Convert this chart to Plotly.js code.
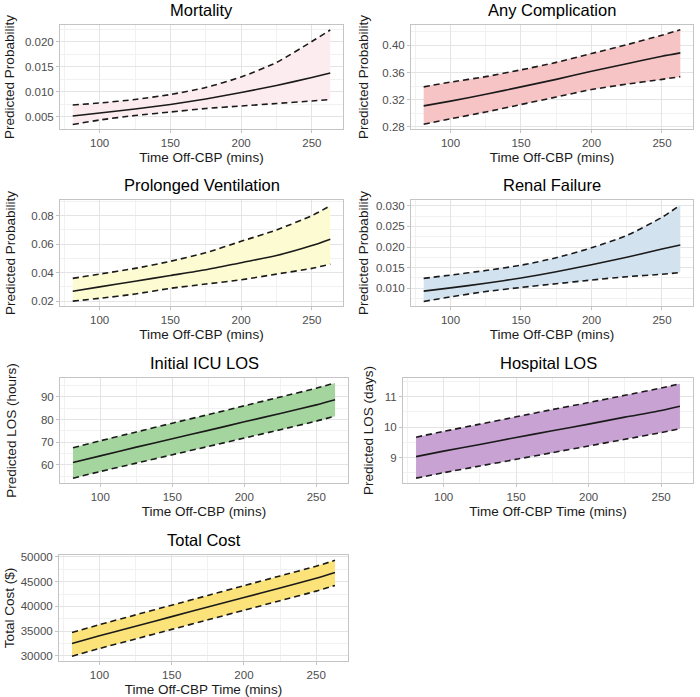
<!DOCTYPE html>
<html>
<head>
<meta charset="utf-8">
<script src="https://cdn.plot.ly/plotly-3.0.1.min.js"></script>
<style>html,body{margin:0;padding:0;background:#fff;}#chart{width:700px;height:697px;}</style>
</head>
<body>
<div id="chart"></div>
<script>
// Time off cardiopulmonary bypass (minutes)
const timeMins = [81, 100, 125, 150, 175, 200, 225, 250, 263];

// Mortality
const mortMean = [0.0051, 0.0057, 0.0065, 0.0074, 0.0085, 0.0098, 0.0112, 0.0128, 0.0137];
const mortLow  = [0.0034, 0.0043, 0.0052, 0.0059, 0.0066, 0.0071, 0.0076, 0.0081, 0.0084];
const mortUp   = [0.0073, 0.0077, 0.0084, 0.0094, 0.0108, 0.0129, 0.0158, 0.0200, 0.0223];

// Any Complication
const compMean = [0.311, 0.318, 0.328, 0.339, 0.350, 0.362, 0.373, 0.384, 0.389];
const compLow  = [0.284, 0.292, 0.302, 0.313, 0.324, 0.335, 0.343, 0.350, 0.354];
const compUp   = [0.339, 0.346, 0.354, 0.364, 0.375, 0.388, 0.401, 0.415, 0.423];

// Prolonged Ventilation
const ventMean = [0.027, 0.030, 0.034, 0.038, 0.042, 0.047, 0.052, 0.059, 0.0635];
const ventLow  = [0.020, 0.022, 0.025, 0.029, 0.032, 0.035, 0.039, 0.043, 0.046];
const ventUp   = [0.036, 0.039, 0.043, 0.048, 0.054, 0.062, 0.070, 0.080, 0.087];

// Renal Failure
const renalMean = [0.0093, 0.0101, 0.0112, 0.0125, 0.0140, 0.0157, 0.0175, 0.0195, 0.0205];
const renalLow  = [0.0068, 0.0079, 0.0092, 0.0102, 0.0111, 0.0120, 0.0128, 0.0134, 0.0138];
const renalUp   = [0.0124, 0.0132, 0.0143, 0.0156, 0.0174, 0.0198, 0.0228, 0.0272, 0.0302];

// Initial ICU LOS (hours)
const icuMean = [61.0, 63.9, 67.8, 71.5, 75.2, 79.0, 82.7, 86.5, 88.8];
const icuLow  = [54.0, 57.0, 60.7, 64.4, 68.1, 71.8, 75.5, 79.3, 81.5];
const icuUp   = [67.5, 70.6, 74.5, 78.4, 82.2, 86.1, 90.0, 93.9, 96.2];

// Hospital LOS (days)
const hospMean = [9.03, 9.21, 9.43, 9.66, 9.88, 10.10, 10.33, 10.55, 10.69];
const hospLow  = [8.32, 8.50, 8.72, 8.94, 9.16, 9.38, 9.60, 9.82, 9.95];
const hospUp   = [9.67, 9.86, 10.10, 10.34, 10.58, 10.81, 11.05, 11.29, 11.43];

// Total Cost ($)
const costMean = [32500, 34050, 35990, 37930, 39870, 41800, 43740, 45680, 46840];
const costLow  = [29930, 31480, 33410, 35350, 37280, 39220, 41150, 43090, 44250];
const costUp   = [34730, 36310, 38280, 40250, 42220, 44200, 46170, 48140, 49320];

const W = 700, H = 697;
const FONT = 'Liberation Sans, Arial, Helvetica, sans-serif';

const panels = [
  {title: 'Mortality', mean: mortMean, low: mortLow, up: mortUp, fill: '#FDECEF',
   xt: 'Time Off-CBP (mins)', yt: 'Predicted Probability',
   yr: [0.0025, 0.0233], tick0: 0.005, dtick: 0.005, fmt: '.3f', box: [60, 343, 25, 129], ys: 7},
  {title: 'Any Complication', mean: compMean, low: compLow, up: compUp, fill: '#F6C4C4',
   xt: 'Time Off-CBP (mins)', yt: 'Predicted Probability',
   yr: [0.277, 0.430], tick0: 0.28, dtick: 0.04, fmt: '.2f', box: [411, 693, 25, 129], ys: 10},
  {title: 'Prolonged Ventilation', mean: ventMean, low: ventLow, up: ventUp, fill: '#FDFBD1',
   xt: 'Time Off-CBP (mins)', yt: 'Predicted Probability',
   yr: [0.0166, 0.0910], tick0: 0.02, dtick: 0.02, fmt: '.2f', box: [60, 343, 200, 306], ys: 12},
  {title: 'Renal Failure', mean: renalMean, low: renalLow, up: renalUp, fill: '#D3E2EF',
   xt: 'Time Off-CBP (mins)', yt: 'Predicted Probability',
   yr: [0.0057, 0.0314], tick0: 0.010, dtick: 0.005, fmt: '.3f', box: [411, 693, 200, 306], ys: 4},
  {title: 'Initial ICU LOS', mean: icuMean, low: icuLow, up: icuUp, fill: '#A5D59E',
   xt: 'Time Off-CBP (mins)', yt: 'Predicted LOS (hours)',
   yr: [51.9, 98.4], tick0: 60, dtick: 10, fmt: 'd', box: [60, 348, 378, 483], ys: 21},
  {title: 'Hospital LOS', mean: hospMean, low: hospLow, up: hospUp, fill: '#C7A2D3',
   xt: 'Time Off-CBP Time (mins)', yt: 'Predicted LOS (days)',
   yr: [8.16, 11.62], tick0: 9, dtick: 1, fmt: 'd', box: [403, 693, 378, 483], ys: 7},
  {title: 'Total Cost', mean: costMean, low: costLow, up: costUp, fill: '#FBE37A',
   xt: 'Time Off-CBP Time (mins)', yt: 'Total Cost ($)',
   yr: [28950, 50400], tick0: 30000, dtick: 5000, fmt: 'd', box: [59, 348, 555, 661], ys: 2}
];

const data = [];
const layout = {
  width: W, height: H,
  margin: {l: 0, r: 0, t: 0, b: 0},
  paper_bgcolor: '#ffffff', plot_bgcolor: '#ffffff',
  showlegend: false,
  font: {family: FONT, color: '#000000'},
  annotations: []
};

const LINE = {color: '#1a1a1a', width: 1.6, shape: 'spline', smoothing: 0.6};

panels.forEach((p, i) => {
  const n = i + 1;
  const xa = 'x' + (n === 1 ? '' : n), ya = 'y' + (n === 1 ? '' : n);
  const xk = 'xaxis' + (n === 1 ? '' : n), yk = 'yaxis' + (n === 1 ? '' : n);
  const [l, r, t, b] = p.box;

  // lower bound (dashed), then upper bound filled down to it (ribbon)
  data.push({
    x: timeMins, y: p.low, xaxis: xa, yaxis: ya, type: 'scatter', mode: 'lines',
    line: Object.assign({}, LINE, {dash: '6px,4px'})
  });
  data.push({
    x: timeMins, y: p.up, xaxis: xa, yaxis: ya, type: 'scatter', mode: 'lines',
    fill: 'tonexty', fillcolor: p.fill,
    line: Object.assign({}, LINE, {dash: '6px,4px'})
  });
  // predicted value
  data.push({
    x: timeMins, y: p.mean, xaxis: xa, yaxis: ya, type: 'scatter', mode: 'lines',
    line: LINE
  });

  const common = {
    showgrid: true, gridcolor: '#E4E4E4', gridwidth: 1,
    showline: true, mirror: true, linecolor: '#C4C4C4', linewidth: 1,
    ticks: 'outside', ticklen: 3, tickcolor: '#C4C4C4', tickwidth: 1,
    tickfont: {family: FONT, size: 11.5, color: '#4D4D4D'},
    zeroline: false, automargin: false, fixedrange: true, tickmode: 'linear'
  };
  layout[xk] = Object.assign({}, common, {
    domain: [l / W, r / W], anchor: ya, range: [72, 272],
    tick0: 100, dtick: 50,
    minor: {dtick: 25, showgrid: true, gridcolor: '#F1F1F1', gridwidth: 1, ticks: ''},
    title: {text: p.xt, font: {family: FONT, size: 13.5, color: '#1a1a1a'}, standoff: 4}
  });
  layout[yk] = Object.assign({}, common, {
    domain: [(H - b) / H, (H - t) / H], anchor: xa, range: p.yr,
    tick0: p.tick0, dtick: p.dtick, tickformat: p.fmt,
    minor: {dtick: p.dtick / 2, showgrid: true, gridcolor: '#F1F1F1', gridwidth: 1, ticks: ''},
    title: {text: p.yt, font: {family: FONT, size: 13.5, color: '#1a1a1a'}, standoff: p.ys}
  });

  layout.annotations.push({
    text: p.title, xref: 'paper', yref: 'paper',
    x: (l + r) / 2 / W, y: (H - (t - 15)) / H, xanchor: 'center', yanchor: 'middle',
    showarrow: false, font: {family: FONT, size: 16.5, color: '#000000'}
  });
});

Plotly.newPlot('chart', data, layout, {staticPlot: true, displayModeBar: false});
</script>
</body>
</html>
